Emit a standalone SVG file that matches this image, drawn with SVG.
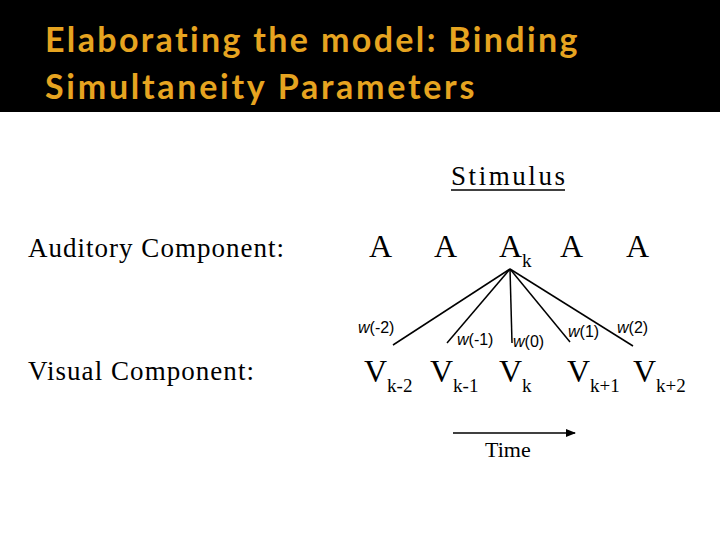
<svg xmlns="http://www.w3.org/2000/svg" width="720" height="540" viewBox="0 0 720 540">
<style>
.t{font-family:Lato,"Open Sans",sans-serif;font-weight:bold;font-size:34px;letter-spacing:0.6px;fill:#E6A420}
.s{font-family:"Liberation Serif",serif;fill:#000}
.w{font-family:"Liberation Sans",sans-serif;font-size:16px;fill:#000}
.l{stroke:#000;stroke-width:1.5;fill:none}
</style>
<defs><marker id="ah" markerWidth="10" markerHeight="8" refX="9" refY="4" orient="auto" markerUnits="userSpaceOnUse"><path d="M0,0 L10,4 L0,8 Z" fill="#000"/></marker></defs>
<rect width="720" height="540" fill="#fff"/>
<rect width="720" height="112" fill="#000"/>
<text class="t" x="45" y="52" textLength="533">Elaborating the model: Binding</text>
<text class="t" x="45" y="99" textLength="430">Simultaneity Parameters</text>
<g id="stimulus"><text class="s" x="451" y="185" font-size="27" textLength="114">Stimulus</text><line x1="451" y1="190" x2="565" y2="190" stroke="#000" stroke-width="1.5"/></g>
<text class="s" x="28" y="257" font-size="27" textLength="256">Auditory Component:</text>
<text class="s" x="28" y="380" font-size="27" textLength="226">Visual Component:</text>
<g id="auditory" class="s" font-size="32">
<text x="369" y="257">A</text><text x="434" y="257">A</text><text x="499" y="257">A<tspan font-size="19" dy="10">k</tspan></text><text x="560" y="257">A</text><text x="626" y="257">A</text>
</g>
<g id="visual" class="s" font-size="32">
<text x="364" y="382">V<tspan font-size="19" dy="10">k-2</tspan></text>
<text x="430" y="382">V<tspan font-size="19" dy="10">k-1</tspan></text>
<text x="499" y="382">V<tspan font-size="19" dy="10">k</tspan></text>
<text x="567" y="382">V<tspan font-size="19" dy="10">k+1</tspan></text>
<text x="633" y="382">V<tspan font-size="19" dy="10">k+2</tspan></text>
</g>
<g id="connectors">
<line class="l" x1="510" y1="269" x2="393" y2="345"/>
<line class="l" x1="510" y1="269" x2="447" y2="343"/>
<line class="l" x1="510" y1="269" x2="512" y2="343"/>
<line class="l" x1="510" y1="269" x2="570" y2="342"/>
<line class="l" x1="510" y1="269" x2="633" y2="346"/>
<line class="l" x1="453" y1="433" x2="575" y2="433" marker-end="url(#ah)"/>
</g>
<g id="weights" class="w">
<text x="358" y="333"><tspan font-style="italic">w</tspan>(-2)</text>
<text x="457" y="345"><tspan font-style="italic">w</tspan>(-1)</text>
<text x="513" y="347"><tspan font-style="italic">w</tspan>(0)</text>
<text x="568" y="337"><tspan font-style="italic">w</tspan>(1)</text>
<text x="617" y="333"><tspan font-style="italic">w</tspan>(2)</text>
</g>
<text class="s" x="485" y="457" font-size="22">Time</text>
</svg>
